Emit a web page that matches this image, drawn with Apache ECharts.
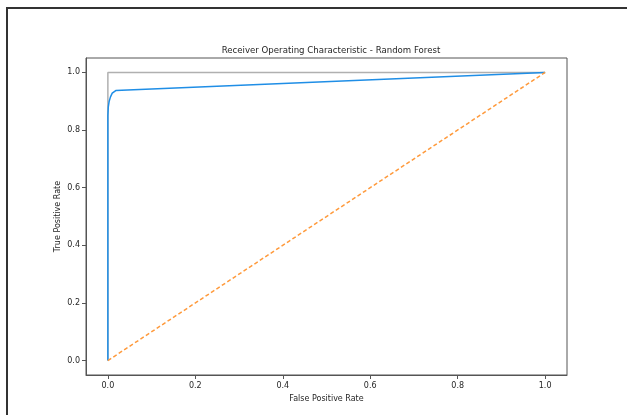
<!DOCTYPE html>
<html>
<head>
<meta charset="utf-8">
<script src="https://cdn.jsdelivr.net/npm/echarts@6/dist/echarts.min.js"></script>
<style>
  html, body { margin: 0; padding: 0; background: #fff; }
  #chart { width: 627px; height: 415px; }
</style>
</head>
<body>
<div id="chart"></div>
<script>
// ROC curve of the random forest classifier
const fprRF = [0, 0, 0, 0.001, 0.003, 0.006, 0.010, 0.018, 1];
const tprRF = [0, 0.5, 0.85, 0.88, 0.90, 0.915, 0.928, 0.937, 1];
// perfect classifier reference
const fprPerfect = [0, 0, 1];
const tprPerfect = [0, 1, 1];
// chance line
const fprChance = [0, 1];
const tprChance = [0, 1];
// tick labels on both axes
const tickValues = [0, 0.2, 0.4, 0.6, 0.8, 1.0];

const pairs = (xs, ys) => xs.map((x, i) => [x, ys[i]]);
const FONT = 'DejaVu Sans';
const TEXT = '#262626';
const AXIS = '#555';

const axisCommon = {
  type: 'value',
  min: -0.05,
  max: 1.05,
  splitLine: { show: false },
  axisLine: { show: true, onZero: false, lineStyle: { color: AXIS, width: 1 } },
  axisTick: { show: true, inside: false, length: 4, lineStyle: { color: AXIS }, customValues: tickValues },
  axisLabel: {
    customValues: tickValues,
    formatter: v => v.toFixed(1),
    fontFamily: FONT, fontSize: 8, color: TEXT
  },
  nameLocation: 'middle',
  nameMoveOverlap: false,
  nameTextStyle: { fontFamily: FONT, fontSize: 8, color: TEXT }
};

const chart = echarts.init(document.getElementById('chart'), null, { renderer: 'canvas' });
chart.setOption({
  animation: false,
  backgroundColor: '#fff',
  title: {
    text: 'Receiver Operating Characteristic - Random Forest',
    left: 326,
    top: 41,
    textAlign: 'center',
    textStyle: { fontFamily: FONT, fontSize: 8.6, fontWeight: 'normal', color: TEXT }
  },
  grid: {
    left: 86, top: 58, right: 60, bottom: 40,
    show: true, borderColor: AXIS, borderWidth: 1, backgroundColor: '#fff'
  },
  xAxis: Object.assign({}, axisCommon, {
    name: 'False Positive Rate',
    nameGap: 20,
    axisLabel: Object.assign({}, axisCommon.axisLabel, { margin: 7 })
  }),
  yAxis: Object.assign({}, axisCommon, {
    name: 'True Positive Rate',
    nameGap: 24,
    nameRotate: 90,
    axisLabel: Object.assign({}, axisCommon.axisLabel, { margin: 6 })
  }),
  graphic: [
    { type: 'line', shape: { x1: 6, y1: 8, x2: 627, y2: 8 }, style: { stroke: '#333', lineWidth: 2 } },
    { type: 'line', shape: { x1: 7, y1: 8, x2: 7, y2: 415 }, style: { stroke: '#333', lineWidth: 2 } }
  ],
  series: [
    {
      type: 'line', data: pairs(fprPerfect, tprPerfect), showSymbol: false,
      lineStyle: { color: '#b0b0b0', width: 1.5 }, z: 1
    },
    {
      type: 'line', data: pairs(fprRF, tprRF), showSymbol: false,
      lineStyle: { color: '#1f8ee6', width: 1.5 }, z: 2
    },
    {
      type: 'line', data: pairs(fprChance, tprChance), showSymbol: false,
      lineStyle: { color: '#ff9a3c', width: 1.5, type: [4, 2.5] }, z: 3
    }
  ]
});
</script>
</body>
</html>
